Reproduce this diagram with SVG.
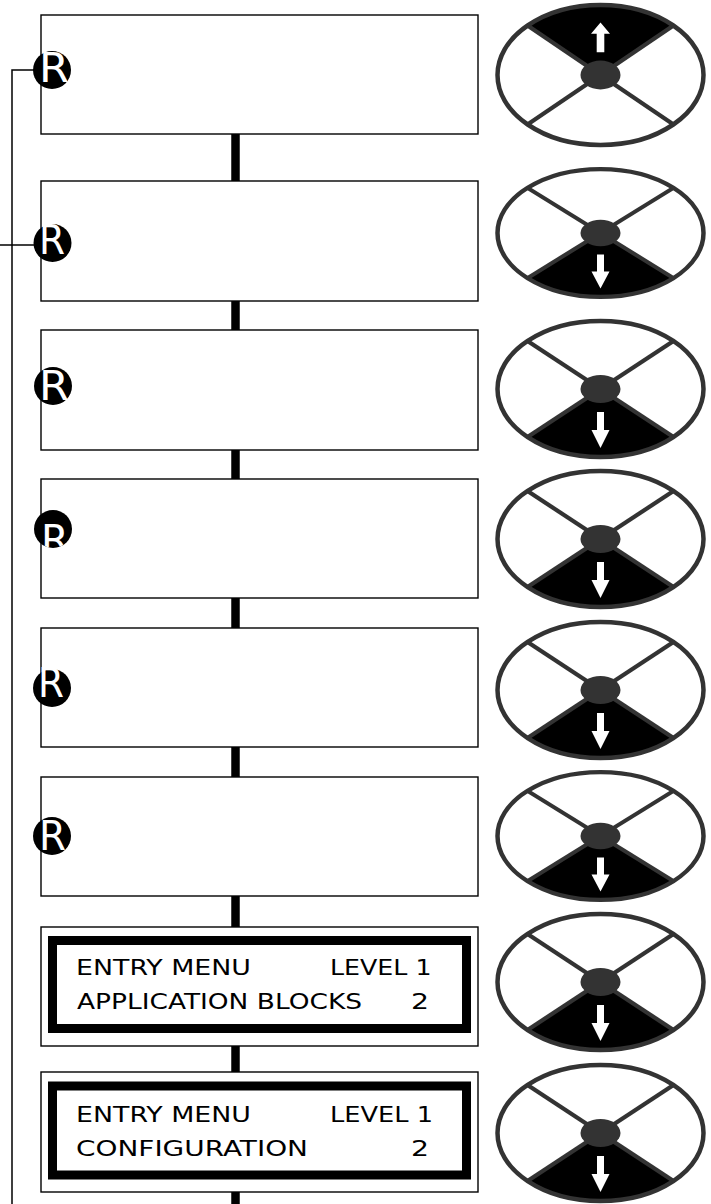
<svg xmlns="http://www.w3.org/2000/svg" xmlns:xlink="http://www.w3.org/1999/xlink" width="711" height="1204" viewBox="0 0 711 1204">
<style>
.box{fill:#fff;stroke:#000;stroke-width:1.4}
.lcd{fill:none;stroke:#000;stroke-width:9}
.conn{stroke:#000;stroke-width:8.5;fill:none}
.wire{stroke:#000;stroke-width:1.5;fill:none}
.rc{fill:#000}
.rt{fill:#fff;font-family:"DejaVu Sans",Verdana,sans-serif;font-size:40px}
.lt{fill:#000;font-family:"DejaVu Sans",Verdana,sans-serif;font-size:21.5px}
.ringbg{fill:#fff}
.ring{fill:none;stroke:#333;stroke-width:4.5}
.spoke{stroke:#333;stroke-width:4.2}
.hub{fill:#333}
.sec{fill:#000}
.arr{fill:#fff}
</style>
<defs>
<g id="btnDown">
<ellipse class="ringbg" rx="103" ry="68"/>
<path class="sec" d="M0,0 L-73,48 A103,68 0 0 0 73,48 Z"/>
<line class="spoke" x1="-73" y1="-48" x2="73" y2="48"/>
<line class="spoke" x1="73" y1="-48" x2="-73" y2="48"/>
<ellipse class="ring" rx="103" ry="68"/>
<ellipse class="hub" rx="20" ry="14"/>
<polygon class="arr" points="-3.5,23 3.5,23 3.5,41 9,41 0,59 -9,41 -3.5,41"/>
</g>
<g id="btnUp">
<ellipse class="ringbg" rx="103" ry="68"/>
<path class="sec" d="M0,0 L-73,-48 A103,68 0 0 1 73,-48 Z"/>
<line class="spoke" x1="-73" y1="-48" x2="73" y2="48"/>
<line class="spoke" x1="73" y1="-48" x2="-73" y2="48"/>
<ellipse class="ring" rx="103" ry="68"/>
<ellipse class="hub" rx="20" ry="14"/>
<polygon class="arr" points="-3.8,-22 3.8,-22 3.8,-40 9.5,-40 0,-51 -9.5,-40 -3.8,-40"/>
</g>
<clipPath id="clipR4"><circle cx="53" cy="529" r="19"/></clipPath>
</defs>

<g id="connectors">
<path class="wire" d="M34,70 H12 V1204"/>
<path class="wire" d="M0,245 H34"/>
<line class="conn" x1="235.5" y1="134" x2="235.5" y2="181"/>
<line class="conn" x1="235.5" y1="301" x2="235.5" y2="330"/>
<line class="conn" x1="235.5" y1="450" x2="235.5" y2="479"/>
<line class="conn" x1="235.5" y1="598" x2="235.5" y2="628"/>
<line class="conn" x1="235.5" y1="747" x2="235.5" y2="777"/>
<line class="conn" x1="235.5" y1="896" x2="235.5" y2="927"/>
<line class="conn" x1="235.5" y1="1046" x2="235.5" y2="1072"/>
<line class="conn" x1="235.5" y1="1192" x2="235.5" y2="1204"/>
</g>

<g id="step1">
<rect class="box" x="41" y="15" width="437" height="119"/>
<circle class="rc" cx="52" cy="70" r="19"/>
<text class="rt" x="39" y="82" textLength="30" lengthAdjust="spacingAndGlyphs">R</text>
</g>
<g id="step2">
<rect class="box" x="41" y="181" width="437" height="120"/>
<circle class="rc" cx="52.5" cy="243" r="19"/>
<text class="rt" x="39" y="254" textLength="26" lengthAdjust="spacingAndGlyphs">R</text>
</g>
<g id="step3">
<rect class="box" x="41" y="330" width="437" height="120"/>
<circle class="rc" cx="53" cy="386" r="19"/>
<text class="rt" x="39" y="400" textLength="30" lengthAdjust="spacingAndGlyphs">R</text>
</g>
<g id="step4">
<rect class="box" x="41" y="479" width="437" height="119"/>
<circle class="rc" cx="53" cy="529" r="19"/>
<text class="rt" x="41" y="554" clip-path="url(#clipR4)">R</text>
</g>
<g id="step5">
<rect class="box" x="41" y="628" width="437" height="119"/>
<circle class="rc" cx="52" cy="688" r="19"/>
<text class="rt" x="38" y="697" textLength="26" lengthAdjust="spacingAndGlyphs">R</text>
</g>
<g id="step6">
<rect class="box" x="41" y="777" width="437" height="119"/>
<circle class="rc" cx="52" cy="836" r="19"/>
<text class="rt" x="39" y="850" textLength="27" lengthAdjust="spacingAndGlyphs">R</text>
</g>
<g id="step7">
<rect class="box" x="41" y="927" width="437" height="119"/>
<rect class="lcd" x="52.5" y="940.5" width="414" height="88"/>
<text class="lt" x="76" y="975" textLength="175" lengthAdjust="spacingAndGlyphs">ENTRY MENU</text>
<text class="lt" x="330" y="975" textLength="101.5" lengthAdjust="spacingAndGlyphs">LEVEL 1</text>
<text class="lt" x="77" y="1009" textLength="285" lengthAdjust="spacingAndGlyphs">APPLICATION BLOCKS</text>
<text class="lt" x="411" y="1009" textLength="18" lengthAdjust="spacingAndGlyphs">2</text>
</g>
<g id="step8">
<rect class="box" x="41" y="1072" width="437" height="120"/>
<rect class="lcd" x="52.5" y="1086" width="414" height="89"/>
<text class="lt" x="76" y="1122" textLength="175" lengthAdjust="spacingAndGlyphs">ENTRY MENU</text>
<text class="lt" x="330" y="1122" textLength="103" lengthAdjust="spacingAndGlyphs">LEVEL 1</text>
<text class="lt" x="76" y="1156" textLength="232" lengthAdjust="spacingAndGlyphs">CONFIGURATION</text>
<text class="lt" x="411" y="1156" textLength="18" lengthAdjust="spacingAndGlyphs">2</text>
</g>

<g id="key1" transform="translate(600.5,75) scale(1,1.03)"><use xlink:href="#btnUp" href="#btnUp"/></g>
<g id="key2" transform="translate(600.5,233) scale(1,0.94)"><use xlink:href="#btnDown" href="#btnDown"/></g>
<g id="key3" transform="translate(600.5,389)"><use xlink:href="#btnDown" href="#btnDown"/></g>
<g id="key4" transform="translate(600.5,539)"><use xlink:href="#btnDown" href="#btnDown"/></g>
<g id="key5" transform="translate(600.5,690)"><use xlink:href="#btnDown" href="#btnDown"/></g>
<g id="key6" transform="translate(600.5,836) scale(1,0.94)"><use xlink:href="#btnDown" href="#btnDown"/></g>
<g id="key7" transform="translate(600.5,982)"><use xlink:href="#btnDown" href="#btnDown"/></g>
<g id="key8" transform="translate(600.5,1133)"><use xlink:href="#btnDown" href="#btnDown"/></g>
</svg>
